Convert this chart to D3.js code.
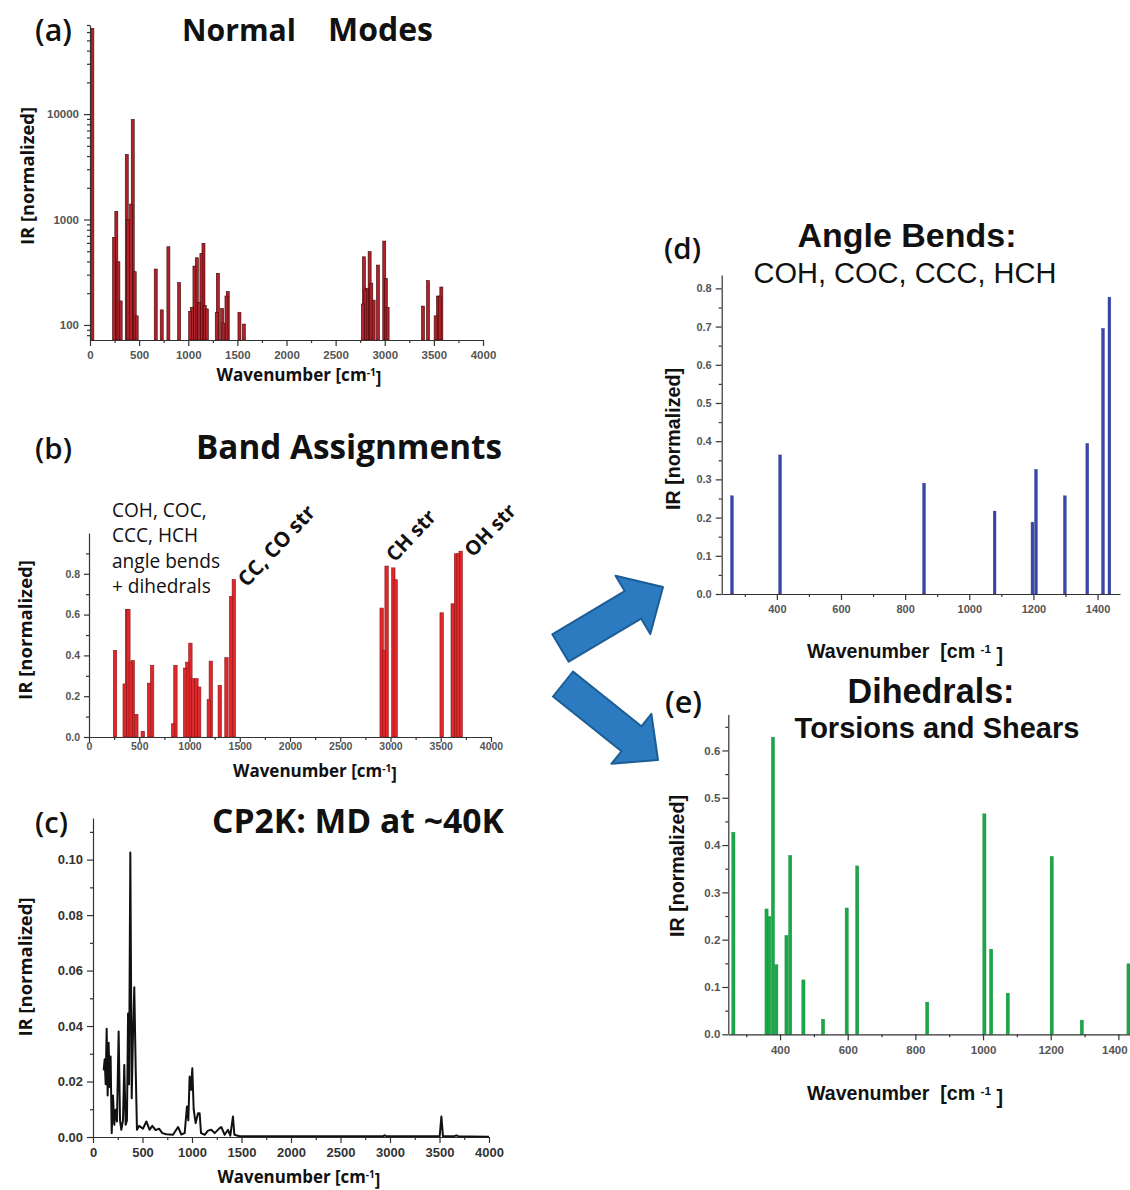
<!DOCTYPE html>
<html>
<head>
<script src="https://cdnjs.cloudflare.com/ajax/libs/d3/7.8.5/d3.min.js"></script>
<title>IR spectra panels</title>
<style>
    html, body { margin: 0; background: #fff; }
    svg { display: block; }
</style>
</head>
<body>
<svg id="fig" width="1130" height="1190"></svg>
<script>

// ---- data ----

// (a) normal modes, log scale
var aWave = [24,245,268,289,312,374,387,418,435,455,475,669,730,798,907,1019,1036,1063,1087,1110,
             1134,1155,1168,1189,1290,1301,1345,1358,1389,1402,1521,1566,2778,2788,2802,2819,2846,2863,
             2887,2931,2995,3012,3029,3389,3440,3518,3542,3559,3576];
var aIR   = [65000,676,1196,398,169,4150,1000,1400,8900,320,122,339,139,552,252,134,147,362,434,163,
             478,595,153,142,131,309,143,104,188,207,132,102,158,443,215,223,496,249,
             172,370,625,277,147,151,263,122,188,188,229];

// (b) band assignments
var bWave = [259,355,378,392,415,435,471,535,598,628,837,860,956,979,1009,1036,1069,1096,1192,1212,
             1301,1368,1414,1441,2912,2935,2961,3028,3051,3509,3619,3652,3672,3698];
var bIR   = [0.424,0.26,0.625,0.625,0.367,0.375,0.111,0.028,0.264,0.351,0.065,0.351,0.338,0.367,0.46,0.286,0.286,0.245,0.183,0.372,
             0.253,0.389,0.689,0.772,0.632,0.424,0.838,0.829,0.771,0.609,0.653,0.898,0.898,0.911];

// (c) CP2K MD spectrum
var cWave = [108,118,128,138,148,158,168,178,189,202,215,229,242,259,273,286,303,316,330,343,
             354,364,377,391,404,417,431,444,465,505,539,572,599,633,667,700,741,808,859,892,
             926,949,963,976,990,1003,1017,1037,1061,1077,1091,1128,1162,1195,1229,1279,1296,1330,1364,1387,
             1414,1428,1481,2000,2500,2930,2946,2962,3400,3502,3519,3535,3650,3670,3690,3800,4000];
var cIR   = [0.024,0.028,0.019,0.039,0.015,0.034,0.018,0.029,0.0014,0.015,0.0044,0.0098,0.0056,0.038,0.006,0.0026,0.006,0.026,0.0044,0.006,
             0.0445,0.019,0.1026,0.014,0.037,0.054,0.025,0.0026,0.004,0.003,0.0056,0.0026,0.004,0.0025,0.003,0.0014,0.001,0.0008,0.0036,0.0009,
             0.0014,0.011,0.006,0.0218,0.017,0.0248,0.01,0.005,0.0086,0.0086,0.0014,0.0008,0.0023,0.0026,0.0014,0.0032,0.0036,0.0008,0.0026,0.0005,
             0.0074,0.0008,0.0003,0.0003,0.0003,0.0003,0.0006,0.0003,0.0003,0.0003,0.0074,0.0003,0.0003,0.0006,0.0003,0.0002,0.0001];

// (d) angle bends
var dWave = [260,410,859,1079,1197,1208,1298,1368,1417,1437];
var dIR   = [0.257,0.364,0.29,0.217,0.188,0.326,0.257,0.394,0.695,0.777];

// (e) dihedrals
var eWave = [262,360,368,379,389,419,430,469,527,597,628,835,1004,1024,1073,1203,1292,1430];
var eIR   = [0.427,0.265,0.249,0.628,0.147,0.209,0.378,0.115,0.032,0.267,0.356,0.068,0.466,0.18,0.087,0.376,0.03,0.149];

// ticks
var fullXTicks  = [0,500,1000,1500,2000,2500,3000,3500,4000];
var fullXMinor  = [250,750,1250,1750,2250,2750,3250,3750];
var aYTicks     = [100,1000,10000];
var aYMinor     = [80,90,200,300,400,500,600,700,800,900,2000,3000,4000,5000,6000,7000,8000,9000,20000,30000,40000,50000,60000,70000];
var bYTicks     = [0,0.2,0.4,0.6,0.8];
var bYMinor     = [0.1,0.3,0.5,0.7,0.9];
var cYTicks     = [0,0.02,0.04,0.06,0.08,0.10];
var cYMinor     = [0.01,0.03,0.05,0.07,0.09,0.11];
var zoomXTicks  = [400,600,800,1000,1200,1400];
var zoomXMinor  = [300,500,700,900,1100,1300,1500];
var dYTicks     = [0,0.1,0.2,0.3,0.4,0.5,0.6,0.7,0.8];
var dYMinor     = [0.05,0.15,0.25,0.35,0.45,0.55,0.65,0.75];
var eYTicks     = [0,0.1,0.2,0.3,0.4,0.5,0.6];
var eYMinor     = [0.05,0.15,0.25,0.35,0.45,0.55,0.65];

var CAL = "'Open Sans', 'Noto Sans', sans-serif";
var ARIAL = "'Liberation Sans', Arial, sans-serif";

var svg = d3.select("#fig");

function axes(cfg) {
    var g = svg.append("g");
    var x = cfg.x, y = cfg.y;
    var y0 = y.range()[0], x0 = x.range()[0];

    var mx = g.append("g").attr("transform", "translate(0," + y0 + ")")
        .call(d3.axisBottom(x).tickValues(cfg.xMinor).tickSize(cfg.minor).tickFormat(""));
    mx.select(".domain").remove();
    var my = g.append("g").attr("transform", "translate(" + x0 + ",0)")
        .call(d3.axisLeft(y).tickValues(cfg.yMinor).tickSize(cfg.minor).tickFormat(""));
    my.select(".domain").remove();

    var xg = g.append("g").attr("transform", "translate(0," + y0 + ")")
        .call(d3.axisBottom(x).tickValues(cfg.xTicks).tickSize(cfg.tick).tickSizeOuter(0)
            .tickPadding(cfg.xPad).tickFormat(cfg.xFmt));
    g.append("g").attr("transform", "translate(" + x0 + ",0)")
        .call(d3.axisLeft(y).tickValues(cfg.yTicks).tickSize(cfg.tick).tickSizeOuter(0)
            .tickPadding(cfg.yPad).tickFormat(cfg.yFmt));

    g.selectAll("g").attr("color", "#333").attr("font-family", ARIAL).attr("font-size", cfg.fs);
    g.selectAll(".domain, .tick line").attr("stroke-width", 1.2);
    g.selectAll(".tick text").attr("fill", cfg.tickColor).attr("font-weight", "bold");
    g.xg = xg;
    return g;
}

function fit(t, w) {
    var len = t.node().getComputedTextLength();
    var fs = parseFloat(t.attr("font-size"));
    t.attr("font-size", (fs * w / len).toFixed(2));
    return t;
}

function txt(s, x, y, opt) {
    var t = svg.append("text")
        .attr("font-family", opt.font || CAL)
        .attr("font-weight", opt.weight || "bold")
        .attr("font-size", opt.size || 16)
        .attr("fill", opt.color || "#111")
        .attr("text-anchor", opt.anchor || "start")
        .attr("transform", "translate(" + x + "," + y + ")" + (opt.rotate ? " rotate(" + opt.rotate + ")" : ""))
        .text(s);
    if (opt.w) fit(t, opt.w);
    return t;
}

function waveLabel(x, y, w, font, gap) {
    var t = svg.append("text")
        .attr("font-family", font).attr("font-weight", "bold").attr("font-size", 16)
        .attr("fill", "#111").attr("text-anchor", "middle")
        .attr("transform", "translate(" + x + "," + y + ")");
    t.append("tspan").text(gap ? "Wavenumber\u00a0\u00a0[cm\u00a0" : "Wavenumber [cm");
    t.append("tspan").attr("dy", "-0.45em").style("font-size", "0.6em").text("-1");
    t.append("tspan").attr("dy", "0.45em").text(gap ? "\u00a0]" : "]");
    fit(t, w);
}

function irLabel(x, y, w, font) {
    txt("IR [normalized]", x, y, {font: font, rotate: -90, anchor: "middle", w: w});
}

function bars(x, y, waves, vals, halfW, fill, stroke, sw) {
    var data = waves.map(function(w, i) { return {w: w, v: vals[i]}; })
        .sort(function(p, q) { return q.v - p.v; });
    var base = y.range()[0];
    svg.append("g").selectAll("rect")
        .data(data)
        .enter()
        .append("rect")
        .attr("x", function(d) { return x(d.w) - halfW; })
        .attr("width", halfW * 2)
        .attr("y", function(d) { return y(d.v); })
        .attr("height", function(d) { return base - y(d.v); })
        .attr("fill", fill)
        .attr("stroke", stroke)
        .attr("stroke-width", sw);
}

// ---------- (a) ----------
var ax = d3.scaleLinear().domain([0, 4000]).range([90, 483]);
var ay = d3.scaleLog().domain([72, 70000]).range([340, 25]);
bars(ax, ay, aWave, aIR, 1.5, "#b0222a", "#3b0808", 0.6);
axes({x: ax, y: ay, xTicks: fullXTicks, xMinor: fullXMinor, yTicks: aYTicks, yMinor: aYMinor,
      tick: 6, minor: 3, fs: 11.5, xPad: 5, yPad: 5, tickColor: "#555",
      xFmt: d3.format("d"), yFmt: d3.format("d")});
txt("(a)", 35, 41, {size: 27, weight: 600, w: 37});
txt("Normal", 182, 41, {size: 32, w: 114});
txt("Modes", 328, 41, {size: 32, w: 105});
irLabel(34, 176, 138, CAL);
waveLabel(299, 381, 165, CAL, false);

// ---------- (b) ----------
var bx = d3.scaleLinear().domain([0, 4000]).range([89, 491]);
var by = d3.scaleLinear().domain([0, 1.0]).range([737, 533]);
bars(bx, by, bWave, bIR, 1.7, "#e0282c", "#8e1414", 0.6);
axes({x: bx, y: by, xTicks: fullXTicks, xMinor: fullXMinor, yTicks: bYTicks, yMinor: bYMinor,
      tick: 5, minor: 3, fs: 10.5, xPad: 1, yPad: 4, tickColor: "#555",
      xFmt: d3.format("d"), yFmt: d3.format(".1f")});
txt("(b)", 35, 459, {size: 27, weight: 600, w: 37});
txt("Band Assignments", 196, 459, {size: 31, w: 306});
var annot = ["COH, COC,", "CCC, HCH", "angle bends", "+ dihedrals"];
var probe = txt(annot[2], 112, 568, {weight: "normal", size: 18, w: 108});
var annFs = probe.attr("font-size");
probe.remove();
annot.forEach(function(s, i) {
    txt(s, 112, 517 + i * 25.3, {weight: "normal", size: annFs});
});
txt("CC, CO str", 247, 588, {size: 17, rotate: -47, w: 102});
txt("CH str", 395, 563, {size: 17, rotate: -47, w: 62});
txt("OH str", 473, 558, {size: 17, rotate: -46, w: 64});
irLabel(32, 630, 140, CAL);
waveLabel(315, 777, 164, CAL, false);

// ---------- (c) ----------
var cx = d3.scaleLinear().domain([0, 4000]).range([93, 489]);
var cy = d3.scaleLinear().domain([0, 0.115]).range([1137, 818]);
axes({x: cx, y: cy, xTicks: fullXTicks, xMinor: fullXMinor, yTicks: cYTicks, yMinor: cYMinor,
      tick: 6, minor: 3, fs: 13, xPad: 5, yPad: 4, tickColor: "#333",
      xFmt: d3.format("d"), yFmt: d3.format(".2f")});
svg.append("path")
    .datum(cWave.map(function(w, i) { return [w, cIR[i]]; }))
    .attr("d", d3.line().x(function(d) { return cx(d[0]); }).y(function(d) { return cy(d[1]); }))
    .attr("fill", "none")
    .attr("stroke", "#111")
    .attr("stroke-width", 2)
    .attr("stroke-linejoin", "round");
txt("(c)", 35, 833, {size: 27, weight: 600, w: 33});
txt("CP2K: MD at ~40K", 212, 833, {size: 29, w: 292});
irLabel(32, 967, 139, CAL);
waveLabel(299, 1183, 163, CAL, false);

// ---------- (d) ----------
var dx = d3.scaleLinear().domain([228, 1470]).range([721.7, 1120]);
var dy = d3.scaleLinear().domain([0, 0.835]).range([594, 275]);
bars(dx, dy, dWave, dIR, 1.4, "#3b47a8", "#2b3590", 0.4);
axes({x: dx, y: dy, xTicks: zoomXTicks, xMinor: zoomXMinor.slice(0, 6), yTicks: dYTicks, yMinor: dYMinor,
      tick: 6, minor: 3, fs: 11, xPad: 5, yPad: 4, tickColor: "#555",
      xFmt: d3.format("d"), yFmt: d3.format(".1f")});
txt("(d)", 664, 259, {size: 27, weight: 600, w: 37});
txt("Angle Bends:", 907, 247, {font: ARIAL, size: 33, anchor: "middle", w: 219});
txt("COH, COC, CCC, HCH", 905, 283, {font: ARIAL, weight: "normal", size: 28, anchor: "middle", w: 303});
irLabel(680, 439, 142, ARIAL);
waveLabel(905, 658, 196, ARIAL, true);

// ---------- (e) ----------
var ex = d3.scaleLinear().domain([247, 1500]).range([728.3, 1152.2]);
var ey = d3.scaleLinear().domain([0, 0.676]).range([1034.3, 714.5]);
bars(ex, ey, eWave, eIR, 1.6, "#1ca64a", "#15903c", 0.4);
var eAxes = axes({x: ex, y: ey, xTicks: zoomXTicks, xMinor: zoomXMinor, yTicks: eYTicks, yMinor: eYMinor,
      tick: 6, minor: 3, fs: 11.5, xPad: 6, yPad: 2, tickColor: "#555",
      xFmt: d3.format("d"), yFmt: d3.format(".1f")});
// the last label sits right at the page edge in the original
eAxes.xg.selectAll(".tick text").filter(function(d) { return d === 1400; }).attr("dx", -4);
txt("(e)", 665, 713, {size: 27, weight: 600, w: 37});
txt("Dihedrals:", 931, 703, {font: ARIAL, size: 33, anchor: "middle", w: 167});
txt("Torsions and Shears", 937, 738, {font: ARIAL, size: 28, anchor: "middle", w: 285});
irLabel(684, 866, 142, ARIAL);
waveLabel(905, 1100, 196, ARIAL, true);

// ---------- block arrows ----------
function blockArrow(tail, tip, shaftW, headW, headL) {
    var ddx = tip[0] - tail[0], ddy = tip[1] - tail[1], L = Math.hypot(ddx, ddy);
    var ux = ddx / L, uy = ddy / L, px = -uy, py = ux;
    var b = [tip[0] - ux * headL, tip[1] - uy * headL];
    var pts = [
        [tail[0] + px * shaftW / 2, tail[1] + py * shaftW / 2],
        [b[0] + px * shaftW / 2, b[1] + py * shaftW / 2],
        [b[0] + px * headW / 2, b[1] + py * headW / 2],
        tip,
        [b[0] - px * headW / 2, b[1] - py * headW / 2],
        [b[0] - px * shaftW / 2, b[1] - py * shaftW / 2],
        [tail[0] - px * shaftW / 2, tail[1] - py * shaftW / 2]
    ];
    return "M" + pts.map(function(p) { return p[0].toFixed(1) + "," + p[1].toFixed(1); }).join("L") + "Z";
}
svg.append("path").attr("d", blockArrow([560.5, 648], [663, 587], 32, 68, 35))
    .attr("fill", "#2c7bc1").attr("stroke", "#1d5d96").attr("stroke-width", 2).attr("stroke-linejoin", "round");
svg.append("path").attr("d", blockArrow([563, 684], [658, 760], 32, 64, 34))
    .attr("fill", "#2c7bc1").attr("stroke", "#1d5d96").attr("stroke-width", 2).attr("stroke-linejoin", "round");

</script>
</body>
</html>
